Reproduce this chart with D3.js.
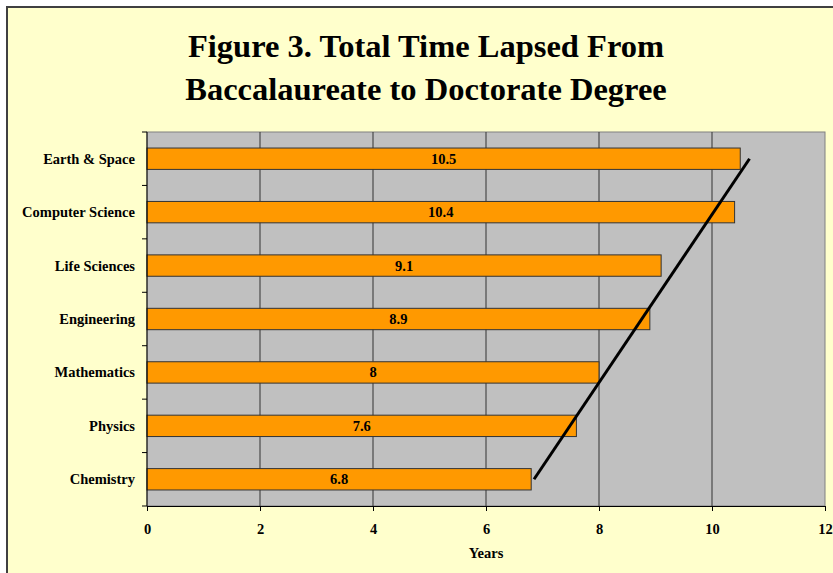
<!DOCTYPE html>
<html>
<head>
<meta charset="utf-8">
<script src="https://cdn.jsdelivr.net/npm/d3@7"></script>
<style>
  html, body { margin: 0; padding: 0; background: #fff; }
  svg { display: block; }
</style>
</head>
<body>
<svg id="chart" width="833" height="573"></svg>
<script>
const categories = ["Earth & Space", "Computer Science", "Life Sciences", "Engineering", "Mathematics", "Physics", "Chemistry"];
const values = [10.5, 10.4, 9.1, 8.9, 8, 7.6, 6.8];
const xTicks = [0, 2, 4, 6, 8, 10, 12];
const titleLines = ["Figure 3. Total Time Lapsed From", "Baccalaureate to Doctorate Degree"];
const xTitle = "Years";

const W = 833, H = 573;
const svg = d3.select("#chart");
const serif = "'Liberation Serif', 'Times New Roman', serif";
const fs = 14.5;

// chart area
svg.append("rect").attr("x", 0).attr("y", 0).attr("width", W).attr("height", H).attr("fill", "#fff");
svg.append("rect").attr("x", 7).attr("y", 7).attr("width", W + 10).attr("height", H + 10)
  .attr("fill", "#FFFFCC").attr("stroke", "#404040").attr("stroke-width", 2);

const plot = { left: 147, right: 825, top: 132, bottom: 506 };

const x = d3.scaleLinear().domain([0, 12]).range([plot.left, plot.right]);
const y = d3.scaleBand().domain(categories).range([plot.top, plot.bottom]).paddingInner(0.6).paddingOuter(0.3);
const yb = d3.scaleBand().domain(categories).range([plot.top, plot.bottom]);

// plot area
svg.append("rect").attr("x", plot.left).attr("y", plot.top)
  .attr("width", plot.right - plot.left).attr("height", plot.bottom - plot.top)
  .attr("fill", "#C0C0C0").attr("stroke", "#808080").attr("stroke-width", 1);

// gridlines
svg.append("g").selectAll("line").data(xTicks.filter(d => d > 0 && d < 12)).join("line")
  .attr("x1", d => x(d)).attr("x2", d => x(d))
  .attr("y1", plot.top).attr("y2", plot.bottom)
  .attr("stroke", "#333").attr("stroke-width", 1);

// bars
const data = categories.map((c, i) => ({ c, v: values[i] }));
svg.append("g").selectAll("rect").data(data).join("rect")
  .attr("x", x(0)).attr("y", d => y(d.c))
  .attr("width", d => x(d.v) - x(0)).attr("height", y.bandwidth())
  .attr("fill", "#FF9900").attr("stroke", "#333").attr("stroke-width", 1);

// bar labels
svg.append("g").selectAll("text").data(data).join("text")
  .attr("x", d => x(d.v / 2)).attr("y", d => y(d.c) + y.bandwidth() / 2)
  .attr("text-anchor", "middle").attr("dominant-baseline", "central")
  .attr("font-family", serif).attr("font-weight", "bold").attr("font-size", fs)
  .text(d => d.v);

// y axis
const yAxisG = svg.append("g");
yAxisG.append("line").attr("x1", plot.left).attr("x2", plot.left)
  .attr("y1", plot.top).attr("y2", plot.bottom).attr("stroke", "#000");
const bounds = categories.map(c => yb(c)).concat([plot.bottom]);
yAxisG.selectAll("line.tick").data(bounds).join("line").attr("class", "tick")
  .attr("x1", plot.left - 5).attr("x2", plot.left).attr("y1", d => d).attr("y2", d => d)
  .attr("stroke", "#000");
yAxisG.selectAll("text").data(categories).join("text")
  .attr("x", 135).attr("y", d => yb(d) + yb.bandwidth() / 2)
  .attr("text-anchor", "end").attr("dominant-baseline", "central")
  .attr("font-family", serif).attr("font-weight", "bold").attr("font-size", fs)
  .text(d => d);

// x axis
const xAxis = d3.axisBottom(x).tickValues(xTicks).tickSize(5).tickSizeOuter(0).tickFormat(d3.format("d"));
const xg = svg.append("g").attr("transform", `translate(0,${plot.bottom})`).call(xAxis);
xg.select(".domain").attr("stroke", "#000");
xg.selectAll(".tick line").attr("stroke", "#000");
xg.selectAll(".tick text").attr("y", 28).attr("dy", "0")
  .attr("font-family", serif).attr("font-weight", "bold").attr("font-size", fs).attr("fill", "#000");

svg.append("text").attr("x", (plot.left + plot.right) / 2).attr("y", 558)
  .attr("text-anchor", "middle")
  .attr("font-family", serif).attr("font-weight", "bold").attr("font-size", fs)
  .text(xTitle);

// trendline (linear least squares over category order, bottom to top)
const pts = data.slice().reverse().map((d, i) => ({ i: i + 1, v: d.v, c: d.c }));
const n = pts.length;
const mi = d3.mean(pts, p => p.i), mv = d3.mean(pts, p => p.v);
const slope = d3.sum(pts, p => (p.i - mi) * (p.v - mv)) / d3.sum(pts, p => (p.i - mi) ** 2);
const icpt = mv - slope * mi;
const first = pts[0], last = pts[n - 1];
svg.append("line")
  .attr("x1", x(icpt + slope * first.i)).attr("y1", y(first.c) + y.bandwidth() / 2)
  .attr("x2", x(icpt + slope * last.i)).attr("y2", y(last.c) + y.bandwidth() / 2)
  .attr("stroke", "#000").attr("stroke-width", 3);

// title
svg.append("g").selectAll("text").data(titleLines).join("text")
  .attr("x", 426).attr("y", (d, i) => 57 + i * 43)
  .attr("text-anchor", "middle")
  .attr("font-family", serif).attr("font-weight", "bold").attr("font-size", 32.5)
  .text(d => d);
</script>
</body>
</html>
